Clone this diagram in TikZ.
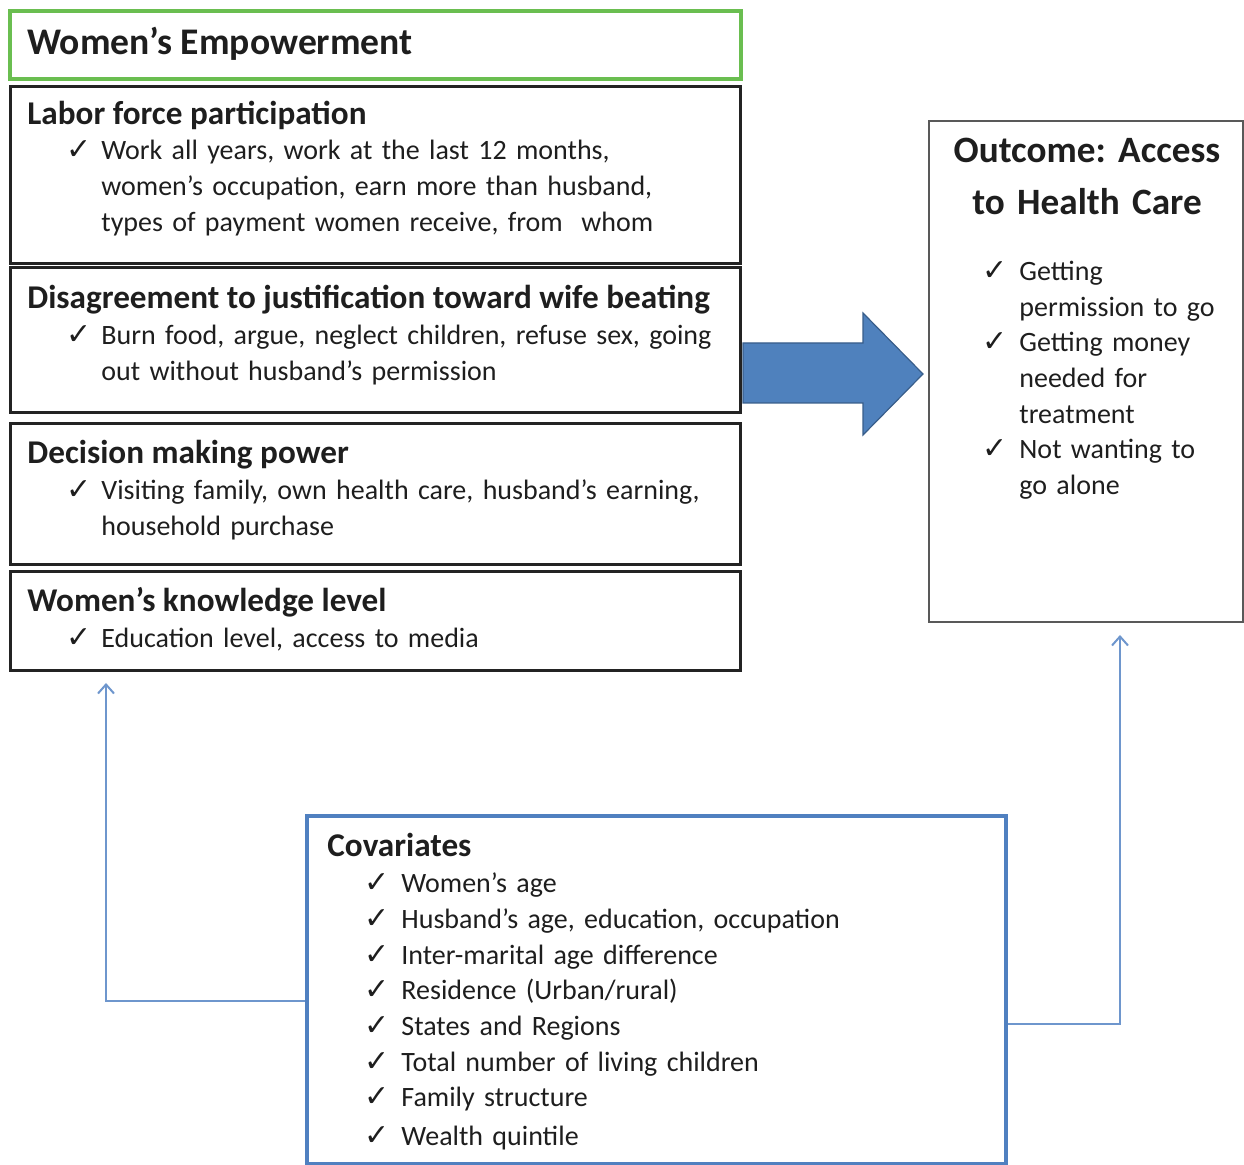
\documentclass[tikz,border=0pt]{standalone}
\usepackage{fontspec}
\setmainfont{Carlito}
\newfontfamily\checkfont{DejaVu Sans}
\usetikzlibrary{arrows.meta}
\frenchspacing

\definecolor{framegreen}{RGB}{106,190,80}
\definecolor{arrowblue}{RGB}{79,129,189}
\definecolor{arrowedge}{RGB}{56,93,138}
\definecolor{covblue}{RGB}{80,128,192}
\definecolor{linkblue}{RGB}{110,150,205}
\definecolor{boxedge}{RGB}{35,35,35}
\definecolor{ink}{RGB}{30,30,30}

\tikzset{
  panel/.style={draw=boxedge, line width=1.4pt, inner sep=0pt, anchor=north west},
  head/.style={anchor=base west, inner sep=0pt, text=ink, font=\fontsize{16.6}{20}\selectfont\bfseries},
  bigtitle/.style={anchor=base, inner sep=0pt, text=ink, text width=155pt, align=center,
                   font=\fontsize{18.6}{26}\selectfont\bfseries},
  body/.style={anchor=base west, inner sep=0pt, text=ink, text width=#1, align=left,
               font=\fontsize{14}{17.85}\selectfont},
  body/.default=340pt,
  tick/.style={anchor=base west, inner sep=0pt, text=ink, font=\checkfont\fontsize{15}{16}\selectfont},
  link/.style={draw=linkblue, line width=1pt, -{Straight Barb[length=4.5pt,width=8pt]}},
}

\begin{document}
\begin{tikzpicture}[x=0.5pt,y=-0.5pt]
\useasboundingbox (0,0) rectangle (1244,1165);

% ---- empowerment column ----
\node[panel, draw=framegreen, line width=2pt, minimum width=365.5pt, minimum height=34pt] (title) at (8,9) {};
\node[head, font=\fontsize{18.8}{22}\selectfont\bfseries] (titletxt) at (27,55) {Women’s Empowerment};

\node[panel, minimum width=365pt, minimum height=88.5pt] (labor) at (9,85) {};
\node[head] (laborh) at (27,125) {Labor force participation};
\node[tick] (laborc) at (66,160) {✓};
\node[body] (labort) at (101,160) {Work all years, work at the last 12 months,\\
  women’s occupation, earn more than husband,\\
  types of payment women receive, from~ whom};

\node[panel, minimum width=365pt, minimum height=72.5pt] (beat) at (9,266) {};
\node[head] (beath) at (27,309) {Disagreement to justification toward wife beating};
\node[tick] (beatc) at (66,345) {✓};
\node[body] (beatt) at (101,345) {Burn food, argue, neglect children, refuse sex, going\\
  out without husband’s permission};

\node[panel, minimum width=365pt, minimum height=70.5pt] (decide) at (9,422) {};
\node[head] (decideh) at (27,464) {Decision making power};
\node[tick] (decidec) at (66,500) {✓};
\node[body] (decidet) at (101,500) {Visiting family, own health care, husband’s earning,\\
  household purchase};

\node[panel, minimum width=365pt, minimum height=49.5pt] (know) at (9,570) {};
\node[head] (knowh) at (27,612) {Women’s knowledge level};
\node[tick] (knowc) at (66,648) {✓};
\node[body] (knowt) at (101,648) {Education level, access to media};

% ---- outcome ----
\node[panel, draw=black!65, line width=0.8pt, minimum width=157pt, minimum height=250.5pt] (outcome) at (928,120) {};
\node[bigtitle] (outh) at (1087,163) {Outcome: Access\\to Health Care};
\node[tick] (oc1) at (982,281) {✓};
\node[body=110pt] (ot1) at (1019,281) {Getting\\permission to go};
\node[tick] (oc2) at (982,352) {✓};
\node[body=110pt] (ot2) at (1019,352) {Getting money\\needed for\\treatment};
\node[tick] (oc3) at (982,459) {✓};
\node[body=110pt] (ot3) at (1019,459) {Not wanting to\\go alone};

% ---- big block arrow ----
\filldraw[fill=arrowblue, draw=arrowedge, line width=0.6pt, line join=miter]
  (743,343) -- (863,343) -- (863,313) -- (923,374) -- (863,435) -- (863,403) -- (743,403) -- cycle;

% ---- covariates ----
\node[panel, draw=covblue, line width=2pt, minimum width=349.5pt, minimum height=174pt] (cov) at (305,814) {};
\node[head] (covh) at (327,857) {Covariates};
\foreach \y/\txt [count=\i] in {893/{Women’s age},
    929/{Husband’s age, education, occupation},
    965/{Inter-marital age difference},
    1000/{Residence (Urban/rural)},
    1036/{States and Regions},
    1072/{Total number of living children},
    1107/{Family structure},
    1145/{Wealth quintile}}{
  \node[tick] (covc\i) at (364,\y) {✓};
  \node[body] (covt\i) at (401,\y) {\txt};
}

% ---- links from covariates ----
\coordinate (tipL) at (106,683);
\coordinate (tipR) at (1120,635);
\draw[link] (cov.west |- 0,1001) -| (tipL);
\draw[link] (cov.east |- 0,1024) -| (tipR);
\end{tikzpicture}
\end{document}
